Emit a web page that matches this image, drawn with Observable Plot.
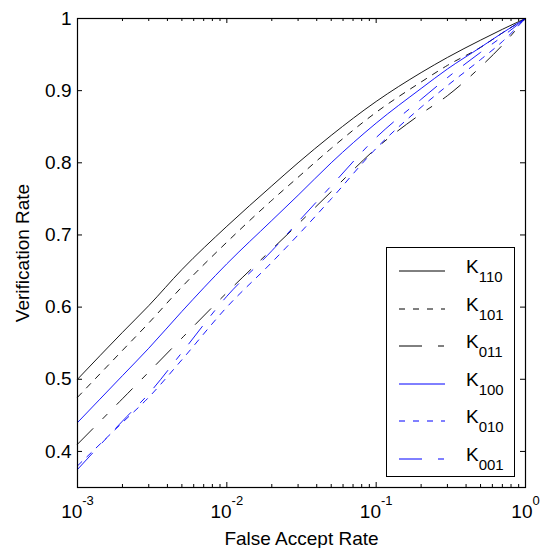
<!DOCTYPE html>
<html>
<head>
<meta charset="utf-8">
<script src="https://cdn.jsdelivr.net/npm/d3@7"></script>
<script src="https://cdn.jsdelivr.net/npm/@observablehq/plot@0.6"></script>
<style>
  html, body { margin: 0; padding: 0; background: #fff; }
  #wrap { position: relative; width: 545px; height: 548px; font-family: "Liberation Sans", Arial, sans-serif; }
  #legend { position: absolute; left: 386px; top: 247px; width: 129px; height: 230px; border: 1px solid #000; background: #fff; box-sizing: border-box; }
  .row { position: absolute; left: 0; height: 20px; width: 127px; }
  .row svg { position: absolute; left: 12px; top: 4px; }
  .row .lab { position: absolute; left: 79px; top: -6px; font-size: 19px; line-height: 22px; color: #000; white-space: nowrap; }
  .row .lab sub { font-size: 15px; vertical-align: -9px; line-height: 0; }
</style>
</head>
<body>
<div id="wrap"></div>
<script>
// False accept rate sample points
const fpr = [0.001, 0.002, 0.003, 0.005, 0.01, 0.02, 0.03, 0.05, 0.1, 0.2, 0.3, 0.5, 0.7, 1.0];
// Verification rate per configuration
const K110 = [0.50, 0.565, 0.602, 0.652, 0.712, 0.768, 0.80, 0.838, 0.885, 0.925, 0.946, 0.97, 0.985, 1.0];
const K101 = [0.475, 0.54, 0.578, 0.628, 0.69, 0.748, 0.78, 0.82, 0.87, 0.912, 0.935, 0.96, 0.98, 1.0];
const K011 = [0.41, 0.473, 0.51, 0.557, 0.62, 0.68, 0.715, 0.76, 0.82, 0.868, 0.893, 0.933, 0.963, 1.0];
const K100 = [0.44, 0.505, 0.543, 0.594, 0.66, 0.72, 0.755, 0.80, 0.855, 0.903, 0.93, 0.96, 0.98, 1.0];
const K010 = [0.38, 0.44, 0.475, 0.527, 0.60, 0.662, 0.70, 0.75, 0.82, 0.877, 0.907, 0.943, 0.968, 1.0];
const K001 = [0.375, 0.442, 0.48, 0.537, 0.615, 0.678, 0.718, 0.768, 0.835, 0.888, 0.918, 0.953, 0.975, 1.0];

const seriesNames = ["110", "101", "011", "100", "010", "001"];
const seriesValues = [K110, K101, K011, K100, K010, K001];
const seriesColors = ["#000000", "#000000", "#000000", "#0000ff", "#0000ff", "#0000ff"];
const seriesDash = [null, "6,7", "22,14,6,14", null, "6,7", "22,14,6,14"];
const legendDash = [null, "6,8", "23,16,6,16", null, "6,8", "23,16,6,16"];

const xMajor = [0.001, 0.01, 0.1, 1];
const xMinor = [];
for (const d of [0.001, 0.01, 0.1]) for (let k = 2; k <= 9; k++) xMinor.push(d * k);
const yTicks = [0.4, 0.5, 0.6, 0.7, 0.8, 0.9, 1.0];

const W = 545, H = 548, mL = 77, mR = 20, mT = 18, mB = 61;
const iW = W - mL - mR, iH = H - mT - mB;

const lineMarks = seriesNames.map((name, i) => Plot.line(
  fpr.map((x, j) => ({x, y: seriesValues[i][j]})),
  {x: "x", y: "y", stroke: seriesColors[i], strokeWidth: 0.9, strokeDasharray: seriesDash[i], curve: "monotone-x"}
));

const chart = Plot.plot({
  width: W, height: H,
  marginLeft: mL, marginRight: mR, marginTop: mT, marginBottom: mB,
  x: {type: "log", domain: [0.001, 1]},
  y: {domain: [0.35, 1]},
  style: {fontFamily: "Liberation Sans, Arial, sans-serif", fontSize: "19px", background: "white", color: "black"},
  marks: [
    ...lineMarks,
    // inward ticks, bottom and top
    Plot.tickX(xMajor, {x: d => d, insetTop: iH - 5, stroke: "black"}),
    Plot.tickX(xMajor, {x: d => d, insetBottom: iH - 5, stroke: "black"}),
    Plot.tickX(xMinor, {x: d => d, insetTop: iH - 3, stroke: "black"}),
    Plot.tickX(xMinor, {x: d => d, insetBottom: iH - 3, stroke: "black"}),
    // inward ticks, left and right
    Plot.tickY(yTicks, {y: d => d, insetRight: iW - 5, stroke: "black"}),
    Plot.tickY(yTicks, {y: d => d, insetLeft: iW - 5, stroke: "black"}),
    Plot.axisX(xMajor, {anchor: "bottom", tickSize: 0, tickPadding: 17,
      tickFormat: d => "10^" + Math.round(Math.log10(d)),
      label: "False Accept Rate", labelAnchor: "center", labelOffset: 57, labelArrow: "none"}),
    Plot.axisY(yTicks, {anchor: "left", tickSize: 0, tickPadding: 6,
      tickFormat: d => d === 1 ? "1" : d.toFixed(1),
      label: "Verification Rate", labelAnchor: "center", labelOffset: 62, labelArrow: "none"}),
    Plot.frame({stroke: "black", strokeWidth: 1.2})
  ]
});

// superscript exponents on the x tick labels
d3.select(chart).selectAll("g[aria-label='x-axis tick label'] text").each(function() {
  const t = d3.select(this);
  const s = t.text();
  if (!s.includes("^")) return;
  const [base, exp] = s.split("^");
  t.text("");
  t.append("tspan").text(base);
  t.append("tspan").attr("dy", "-13").attr("font-size", "13px").text(exp);
});

const wrap = document.getElementById("wrap");
wrap.appendChild(chart);

// legend
const legend = document.createElement("div");
legend.id = "legend";
seriesNames.forEach((name, i) => {
  const row = document.createElement("div");
  row.className = "row";
  row.style.top = (14 + i * 37.6) + "px";
  const dash = legendDash[i] ? `stroke-dasharray="${legendDash[i]}"` : "";
  row.innerHTML = `<svg width="50" height="10"><line x1="0" y1="5" x2="46" y2="5" stroke="${seriesColors[i]}" stroke-width="1" ${dash}/></svg><span class="lab">K<sub>${name}</sub></span>`;
  legend.appendChild(row);
});
wrap.appendChild(legend);
</script>
</body>
</html>
